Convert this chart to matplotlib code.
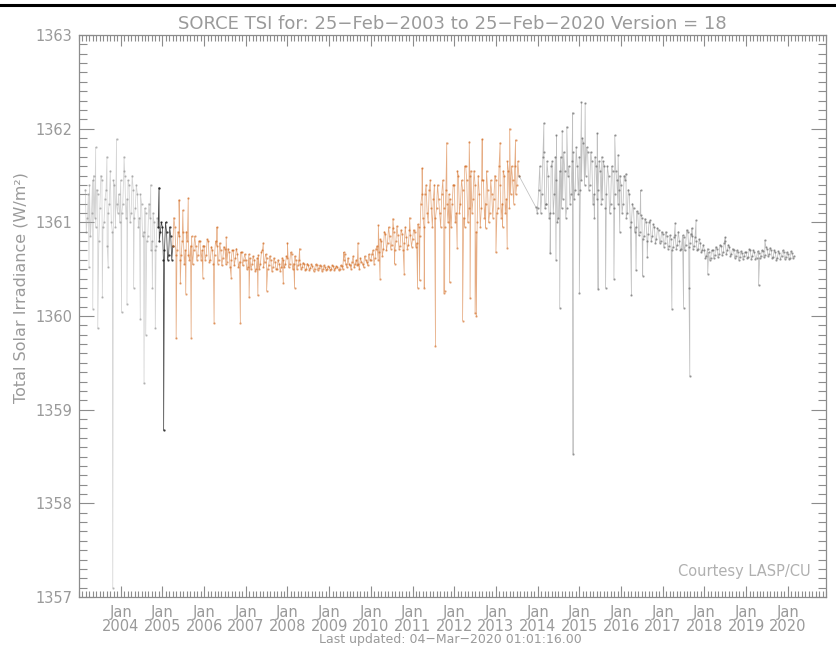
import numpy as np
import matplotlib
matplotlib.use("Agg")
import matplotlib.pyplot as plt
from matplotlib.lines import Line2D

# TSI, one list per year, values ~9 days apart
tsi_2003 = [1361.35, 1360.9, 1361.05, 1361.3, 1361.4, 1360.85, 1361.1, 1361.45, 1361.5, 1361.05,
            1360.95, 1361.35, 1361.3, 1360.8, 1361.15, 1361.5, 1361.45, 1360.95, 1361.0, 1361.25,
            1361.35, 1360.75, 1361.1, 1361.2, 1361.55, 1361.0, 1360.9, 1361.45, 1361.4, 1360.95,
            1361.2, 1361.1, 1361.3, 1361.0]
tsi_2004 = [1361.45, 1361.1, 1361.2, 1361.55, 1361.5, 1361.05, 1361.25, 1361.45, 1361.4, 1361.0,
            1361.1, 1361.5, 1361.35, 1361.05, 1361.15, 1361.4, 1361.3, 1360.95, 1361.05, 1361.3,
            1361.2, 1360.85, 1360.9, 1361.15, 1361.1, 1360.8, 1360.85, 1361.2, 1361.05, 1360.7,
            1360.8, 1361.1, 1361.0, 1360.7, 1360.75, 1361.05, 1360.95, 1360.8, 1360.9, 1361.0]
tsi_2005 = [1360.95, 1360.6, 1360.7, 1361.0, 1360.9, 1360.6, 1360.65, 1360.95, 1360.85, 1360.6,
            1360.75, 1361.05, 1360.95, 1360.65, 1360.7, 1360.9, 1360.85, 1360.6, 1360.65, 1360.8,
            1360.9, 1360.55, 1360.7, 1360.9, 1360.8, 1360.65, 1360.6, 1360.75, 1360.85, 1360.55,
            1360.7, 1360.85, 1360.75, 1360.6, 1360.65, 1360.8, 1360.8, 1360.6, 1360.7, 1360.75]
tsi_2006 = [1360.75, 1360.6, 1360.65, 1360.82, 1360.8, 1360.58, 1360.6, 1360.74, 1360.7, 1360.55,
            1360.65, 1360.8, 1360.75, 1360.56, 1360.6, 1360.78, 1360.7, 1360.54, 1360.62, 1360.74,
            1360.72, 1360.55, 1360.58, 1360.72, 1360.68, 1360.52, 1360.6, 1360.7, 1360.7, 1360.54,
            1360.62, 1360.72, 1360.66, 1360.52, 1360.58, 1360.68, 1360.68, 1360.54, 1360.6, 1360.66]
tsi_2007 = [1360.6, 1360.5, 1360.52, 1360.66, 1360.62, 1360.5, 1360.55, 1360.64, 1360.6, 1360.48,
            1360.5, 1360.62, 1360.65, 1360.5, 1360.55, 1360.68, 1360.7, 1360.52, 1360.58, 1360.66,
            1360.62, 1360.5, 1360.54, 1360.64, 1360.6, 1360.48, 1360.52, 1360.62, 1360.58, 1360.5,
            1360.5, 1360.6, 1360.56, 1360.48, 1360.52, 1360.62, 1360.6, 1360.52, 1360.55, 1360.64]
tsi_2008 = [1360.62, 1360.52, 1360.55, 1360.68, 1360.66, 1360.5, 1360.56, 1360.64, 1360.6, 1360.5,
            1360.54, 1360.6, 1360.56, 1360.5, 1360.52, 1360.57, 1360.55, 1360.49, 1360.5, 1360.56,
            1360.54, 1360.49, 1360.51, 1360.55, 1360.53, 1360.48, 1360.5, 1360.55, 1360.54, 1360.49,
            1360.51, 1360.54, 1360.53, 1360.48, 1360.5, 1360.54, 1360.52, 1360.49, 1360.5, 1360.53]
tsi_2009 = [1360.52, 1360.49, 1360.5, 1360.54, 1360.53, 1360.49, 1360.51, 1360.53, 1360.52, 1360.49,
            1360.5, 1360.54, 1360.53, 1360.5, 1360.6, 1360.66, 1360.55, 1360.52, 1360.62, 1360.56,
            1360.54, 1360.5, 1360.58, 1360.64, 1360.52, 1360.56, 1360.6, 1360.54, 1360.55, 1360.5,
            1360.62, 1360.58, 1360.56, 1360.52, 1360.64, 1360.6, 1360.58, 1360.54, 1360.66, 1360.6]
tsi_2010 = [1360.6, 1360.66, 1360.7, 1360.56, 1360.62, 1360.72, 1360.75, 1360.6, 1360.68, 1360.82,
            1360.8, 1360.64, 1360.72, 1360.9, 1360.88, 1360.7, 1360.78, 1360.95, 1360.85, 1360.72,
            1360.76, 1360.94, 1360.9, 1360.7, 1360.8, 1360.96, 1360.86, 1360.72, 1360.75, 1360.92,
            1360.88, 1360.7, 1360.78, 1360.95, 1360.84, 1360.72, 1360.76, 1360.92, 1360.86, 1360.74]
tsi_2011 = [1360.82, 1360.92, 1360.9, 1360.74, 1360.78, 1360.98, 1360.95, 1360.85, 1361.2, 1361.3,
            1361.05, 1360.95, 1361.3, 1361.4, 1361.1, 1361.0, 1361.35, 1361.45, 1361.15, 1360.95,
            1361.25, 1361.4, 1361.05, 1361.15, 1361.4, 1361.25, 1361.1, 1360.95, 1361.3, 1361.45,
            1361.15, 1360.95, 1361.35, 1361.2, 1361.0, 1361.3, 1361.25, 1360.95, 1361.2, 1361.4]
tsi_2012 = [1361.4, 1361.0, 1361.1, 1361.55, 1361.5, 1361.1, 1361.2, 1361.45, 1361.35, 1361.05,
            1360.95, 1361.6, 1361.45, 1361.0, 1361.15, 1361.5, 1361.55, 1361.1, 1361.25, 1361.55,
            1361.4, 1360.9, 1361.0, 1361.5, 1361.3, 1360.95, 1361.15, 1361.45, 1361.45, 1361.05,
            1361.2, 1361.55, 1361.35, 1361.0, 1361.1, 1361.45, 1361.3, 1361.05, 1361.25, 1361.5]
tsi_2013 = [1361.45, 1361.1, 1361.15, 1361.6, 1361.4, 1361.05, 1361.2, 1361.55, 1361.5, 1361.1,
            1361.25, 1361.65, 1361.55, 1361.15, 1361.3, 1361.6, 1361.45, 1361.2, 1361.6, 1361.3,
            1361.4, 1361.65, 1361.5]
tsi_2014 = [1361.15, 1361.35, 1361.6, 1361.1, 1361.3, 1361.7, 1361.75, 1361.15, 1361.2, 1361.65,
            1361.5, 1361.05, 1361.1, 1361.6, 1361.65, 1361.1, 1361.3, 1361.7, 1361.45, 1361.0,
            1361.05, 1361.55, 1361.7, 1361.15, 1361.25, 1361.75, 1361.55, 1361.05, 1361.15, 1361.5,
            1361.6, 1361.2, 1361.3, 1361.65, 1361.75, 1361.25, 1361.35, 1361.8, 1361.6, 1361.3]
tsi_2015 = [1361.7, 1361.35, 1361.45, 1361.9, 1361.85, 1361.4, 1361.5, 1361.8, 1361.75, 1361.35,
            1361.4, 1361.75, 1361.65, 1361.2, 1361.3, 1361.7, 1361.6, 1361.25, 1361.35, 1361.65,
            1361.55, 1361.2, 1361.25, 1361.65, 1361.6, 1361.15, 1361.3, 1361.6, 1361.5, 1361.1,
            1361.2, 1361.6, 1361.55, 1361.15, 1361.3, 1361.55, 1361.45, 1361.2, 1361.35, 1361.5]
tsi_2016 = [1361.4, 1361.1, 1361.2, 1361.5, 1361.45, 1361.05, 1361.1, 1361.35, 1361.3, 1360.95,
            1361.0, 1361.2, 1361.15, 1360.9, 1360.95, 1361.12, 1361.1, 1360.86, 1360.9, 1361.08,
            1361.05, 1360.82, 1360.85, 1361.04, 1361.0, 1360.8, 1360.88, 1361.0, 1361.02, 1360.8,
            1360.85, 1360.98, 1360.95, 1360.78, 1360.82, 1360.94, 1360.92, 1360.78, 1360.8, 1360.9]
tsi_2017 = [1360.88, 1360.74, 1360.78, 1360.9, 1360.85, 1360.72, 1360.75, 1360.86, 1360.82, 1360.7,
            1360.74, 1360.84, 1360.86, 1360.72, 1360.76, 1360.9, 1360.8, 1360.7, 1360.72, 1360.86,
            1360.84, 1360.7, 1360.76, 1360.92, 1360.9, 1360.74, 1360.78, 1360.88, 1360.85, 1360.72,
            1360.75, 1360.84, 1360.8, 1360.7, 1360.72, 1360.82, 1360.78, 1360.68, 1360.7, 1360.76]
tsi_2018 = [1360.7, 1360.62, 1360.64, 1360.72, 1360.68, 1360.6, 1360.62, 1360.7, 1360.7, 1360.62,
            1360.65, 1360.74, 1360.72, 1360.63, 1360.66, 1360.76, 1360.75, 1360.65, 1360.68, 1360.78,
            1360.8, 1360.66, 1360.7, 1360.76, 1360.74, 1360.64, 1360.66, 1360.72, 1360.7, 1360.62,
            1360.64, 1360.7, 1360.68, 1360.6, 1360.63, 1360.69, 1360.67, 1360.61, 1360.64, 1360.68]
tsi_2019 = [1360.68, 1360.62, 1360.63, 1360.71, 1360.7, 1360.61, 1360.64, 1360.7, 1360.68, 1360.61,
            1360.62, 1360.69, 1360.67, 1360.62, 1360.64, 1360.7, 1360.69, 1360.63, 1360.65, 1360.74,
            1360.72, 1360.64, 1360.66, 1360.73, 1360.7, 1360.62, 1360.63, 1360.7, 1360.68, 1360.6,
            1360.62, 1360.69, 1360.67, 1360.61, 1360.64, 1360.7, 1360.68, 1360.61, 1360.63, 1360.68]
tsi_2020 = [1360.66, 1360.61, 1360.62, 1360.69, 1360.67, 1360.62, 1360.64]

# single-day excursions (sunspot dips and bright days), decimal year
spike_dates = [2003.24, 2003.33, 2003.40, 2003.45, 2003.56, 2003.67, 2003.70, 2003.81, 2003.90,
               2004.02, 2004.08, 2004.15, 2004.31, 2004.47, 2004.56, 2004.60, 2004.72, 2004.76,
               2004.83, 2004.92, 2005.03,
               2005.33, 2005.40, 2005.43, 2005.49, 2005.56, 2005.62, 2005.69, 2005.97, 2006.24,
               2006.31, 2006.53, 2006.65, 2006.87, 2007.08, 2007.29, 2007.42, 2007.50, 2007.90,
               2008.00, 2008.17, 2008.29, 2009.35, 2009.69, 2010.18, 2010.22, 2010.53, 2010.57,
               2010.80, 2010.93, 2011.12, 2011.17, 2011.23, 2011.28, 2011.55, 2011.75, 2011.77,
               2011.82, 2011.89, 2012.07, 2012.20, 2012.25, 2012.36, 2012.38, 2012.50, 2012.53,
               2012.67, 2012.75, 2013.00, 2013.10, 2013.16, 2013.27, 2013.33, 2013.47,
               2013.96, 2013.99,
               2014.15, 2014.20, 2014.30, 2014.44, 2014.45, 2014.53, 2014.59, 2014.70, 2014.84,
               2014.85, 2015.00, 2015.05, 2015.14, 2015.36, 2015.43, 2015.45, 2015.54, 2015.63,
               2015.83, 2015.85, 2015.93, 2015.97, 2016.12, 2016.25, 2016.36, 2016.47, 2016.52,
               2016.63, 2017.22, 2017.30, 2017.50, 2017.63, 2017.65, 2017.70, 2017.80, 2018.08,
               2018.50, 2019.30, 2019.45]
spike_values = [1360.52, 1360.08, 1361.80, 1359.87, 1360.20, 1361.70, 1360.52, 1357.10, 1361.89,
                1360.04, 1361.70, 1360.13, 1360.30, 1359.97, 1359.28, 1359.80, 1361.40, 1360.30,
                1359.87, 1361.37, 1358.78,
                1359.76, 1361.24, 1360.35, 1361.13, 1360.24, 1361.26, 1359.77, 1360.41, 1359.92,
                1360.95, 1360.84, 1360.41, 1359.93, 1360.20, 1360.22, 1360.78, 1360.27, 1360.35,
                1360.78, 1360.30, 1360.72, 1360.68, 1360.78, 1360.97, 1360.40, 1361.04, 1360.56,
                1360.45, 1361.05, 1360.30, 1360.38, 1361.58, 1360.30, 1359.68, 1360.25, 1360.27,
                1361.85, 1360.36, 1360.73, 1359.95, 1361.60, 1361.86, 1360.19, 1360.03, 1360.00,
                1361.89, 1360.94, 1360.68, 1361.85, 1360.95, 1360.73, 1362.00, 1361.88,
                1361.16, 1361.10,
                1362.06, 1361.20, 1360.67, 1360.60, 1361.93, 1360.09, 1361.98, 1362.02, 1362.17,
                1358.53, 1360.25, 1362.28, 1362.27, 1361.05, 1361.95, 1360.29, 1361.70, 1360.30,
                1360.40, 1361.93, 1361.72, 1360.90, 1361.52, 1360.22, 1360.49, 1361.34, 1360.43,
                1360.63, 1360.08, 1360.99, 1360.09, 1360.30, 1359.36, 1360.94, 1361.02, 1360.45,
                1360.84, 1360.33, 1360.81]

years = list(range(2003, 2021))
yearly = [tsi_2003, tsi_2004, tsi_2005, tsi_2006, tsi_2007, tsi_2008, tsi_2009, tsi_2010, tsi_2011,
          tsi_2012, tsi_2013, tsi_2014, tsi_2015, tsi_2016, tsi_2017, tsi_2018, tsi_2019, tsi_2020]

# periods drawn in different colours by the original IDL plot
black_start, orange_start, orange_end = 2004.92, 2005.27, 2013.56

dates, vals = [], []
for yr, v in zip(years, yearly):
    first = yr + (0.15 if yr == 2003 else 0.0)
    dates += list(first + 0.025 * np.arange(len(v)))
    vals += v
dates = np.array(dates + spike_dates)
vals = np.array(vals + spike_values)
order = np.argsort(dates)
dates, vals = dates[order], vals[order]

GREY = '#8c8c8c'
TXT = '#9a9a9a'

fig = plt.figure(figsize=(8.37, 6.46), dpi=100)
ax = fig.add_axes([79 / 837, 1 - 597 / 646, 747 / 837, 562 / 646])


def seg(lo, hi, color, lw=0.55, alpha=0.5, mc=None):
    m = (dates >= lo) & (dates <= hi)
    mc = mc or color
    ax.plot(dates[m], vals[m], color=color, lw=lw, alpha=alpha,
            marker='.', ms=1.3, mec=mc, mfc=mc)


seg(2003, black_start, '#a8a8a8', mc='#888888')
seg(black_start - 0.02, orange_start, '#1a1a1a', alpha=0.8)
seg(orange_start - 0.02, orange_end, '#d2691e', alpha=0.55)
seg(orange_end - 0.01, 2021, '#959595', alpha=0.6, mc='#6a6a6a')

ax.set_xlim(2003.151, 2020.150)
ax.set_ylim(1357, 1363)

ax.set_xticks(range(2004, 2021))
ax.set_xticklabels([f'Jan\n{y}' for y in range(2004, 2021)], linespacing=0.85)
ax.set_xticks([y + m / 12 for y in range(2003, 2021) for m in range(12)], minor=True)
ax.set_yticks(range(1357, 1364))
ax.set_yticks(np.arange(1357, 1363.01, 0.1), minor=True)

ax.tick_params(which='both', direction='in', top=True, right=True, colors=GREY,
               labelcolor=TXT, labelsize=10.5, width=0.8)
ax.tick_params(axis='x', which='major', length=8, pad=6)
ax.tick_params(axis='x', which='minor', length=4)
ax.tick_params(axis='y', which='major', length=11, pad=5)
ax.tick_params(axis='y', which='minor', length=6)
for s in ax.spines.values():
    s.set_color(GREY)
    s.set_linewidth(0.9)

ax.set_ylabel('Total Solar Irradiance (W/m²)', color=TXT, fontsize=11.5)
ax.yaxis.set_label_coords(-0.067, 0.55)
ax.set_title('SORCE TSI for: 25\u2212Feb\u22122003 to 25\u2212Feb\u22122020 Version = 18',
             color=TXT, fontsize=13, pad=4)
ax.text(0.979, 0.045, 'Courtesy LASP/CU', transform=ax.transAxes, ha='right', va='center',
        color='#b0b0b0', fontsize=10.5)
fig.text(450 / 837, 0.5 / 646, 'Last updated: 04\u2212Mar\u22122020 01:01:16.00',
         ha='center', va='bottom', color=TXT, fontsize=9)
fig.add_artist(Line2D([0, 1], [1 - 5 / 646, 1 - 5 / 646], color='black', lw=2.2,
                      transform=fig.transFigure))

fig.savefig('out.png', dpi=100)
